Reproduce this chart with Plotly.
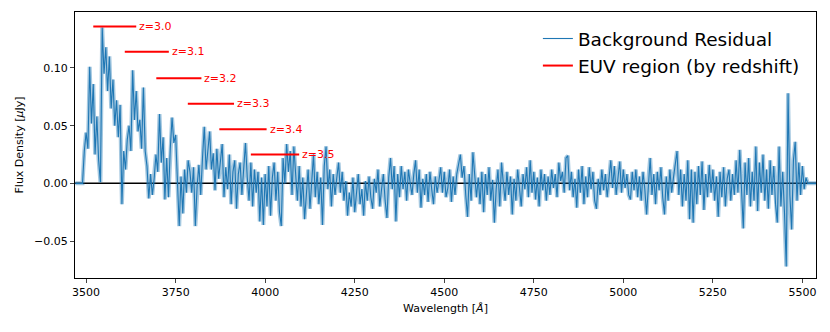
import numpy as np
import plotly.graph_objects as go

# wavelength grid of the residual spectrum [A], 5 A sampling
wave_start, wave_stop, wave_step = 3470, 5540, 5
wavelength = np.arange(wave_start, wave_stop + wave_step, wave_step)

pad_left = [0.0] * 5  # 3470 - 3490
flux = [
    0.028, 0.044, 0.030, 0.101, 0.052, 0.086, 0.025, 0.058, 0.020, 0.001,
    0.135, 0.095, 0.118, 0.080, 0.110, 0.065, 0.090, 0.050, 0.072, 0.040,
    0.068, -0.018, 0.028, 0.012, 0.038, 0.050, 0.028, 0.098, 0.055, 0.080,
    0.045, 0.055, 0.030, 0.083, 0.028, 0.015, -0.013, 0.008, -0.010, 0.004,
    0.025, 0.010, 0.060, 0.018, 0.040, -0.014, 0.022, -0.012, 0.030, 0.057,
    0.035, 0.042, 0.002, -0.037, 0.006, -0.026, 0.012, -0.008, 0.020, 0.010,
    -0.008, 0.014, -0.037, -0.002, 0.016, -0.010, 0.022, 0.049, 0.012, 0.032,
    0.045, 0.012, 0.026, -0.006, 0.030, 0.004, 0.018, 0.034, -0.012, 0.014,
    -0.005, 0.025, -0.018, 0.010, 0.020, -0.022, 0.008, 0.018, -0.010, 0.015,
    0.035, 0.005, -0.015, 0.018, -0.020, 0.012, -0.008, 0.010, -0.033, 0.005,
    -0.036, 0.008, -0.020, 0.015, -0.028, 0.005, 0.018, -0.015, 0.010, -0.025,
    -0.037, 0.022, 0.000, 0.034, 0.010, 0.028, -0.010, 0.032, 0.005, -0.015,
    0.015, -0.020, 0.005, -0.031, -0.010, 0.012, -0.022, 0.002, 0.025, -0.012,
    0.010, -0.018, 0.005, -0.036, 0.015, 0.032, -0.005, 0.012, -0.020, 0.008,
    -0.010, 0.005, 0.018, -0.008, 0.010, -0.015, 0.002, -0.028, -0.008, -0.020,
    0.005, -0.025, -0.010, 0.008, -0.018, -0.005, -0.028, 0.002, -0.015, 0.006,
    -0.012, -0.022, 0.004, -0.008, 0.012, -0.020, -0.005, 0.008, -0.015, -0.030,
    0.005, 0.022, -0.005, 0.015, -0.033, 0.008, -0.012, 0.015, -0.005, 0.010,
    -0.015, 0.012, 0.000, -0.010, 0.008, 0.020, -0.008, 0.012, -0.021, 0.004,
    -0.010, 0.008, -0.016, 0.010, -0.005, -0.018, 0.006, -0.008, 0.002, 0.014,
    -0.008, 0.010, -0.012, -0.004, 0.012, -0.016, 0.006, -0.010, 0.008, 0.018,
    0.025, 0.005, 0.015, -0.010, -0.029, 0.008, -0.015, 0.027, 0.010, -0.012,
    0.005, -0.018, 0.010, -0.025, 0.008, -0.010, 0.014, -0.015, 0.003, -0.034,
    -0.005, 0.012, -0.020, 0.018, 0.000, -0.015, 0.010, -0.010, 0.006, -0.027,
    0.004, -0.015, 0.012, -0.008, -0.020, 0.008, -0.005, 0.014, -0.012, 0.020,
    -0.008, 0.010, -0.014, 0.005, -0.020, 0.012, -0.006, 0.008, -0.015, 0.006,
    -0.010, 0.012, -0.004, 0.008, -0.012, 0.018, 0.002, 0.010, -0.008, 0.022,
    0.024, -0.006, 0.010, -0.012, 0.004, -0.021, 0.012, -0.008, 0.015, -0.018,
    0.006, -0.012, 0.014, -0.005, 0.010, -0.015, -0.022, 0.004, -0.010, 0.012,
    -0.006, 0.008, -0.012, 0.004, 0.020, -0.004, 0.015, -0.010, 0.006, 0.019,
    -0.008, 0.012, -0.004, 0.008, -0.010, -0.014, 0.010, -0.006, 0.012, -0.012,
    0.006, -0.015, 0.010, -0.005, -0.027, 0.004, 0.022, -0.010, 0.008, -0.018,
    0.010, -0.006, 0.014, -0.012, -0.027, 0.006, -0.015, 0.012, -0.008, 0.005,
    0.015, 0.028, -0.010, 0.012, -0.020, 0.008, -0.015, 0.020, -0.031, 0.012,
    -0.034, 0.010, -0.018, 0.015, -0.010, 0.019, -0.023, 0.008, -0.012, 0.016,
    -0.008, 0.012, -0.015, 0.006, -0.029, 0.010, -0.012, 0.014, -0.020, 0.004,
    0.012, -0.015, 0.008, -0.010, 0.020, -0.008, 0.029, -0.012, -0.039, 0.018,
    -0.010, 0.022, -0.020, 0.010, -0.015, 0.032, -0.024, 0.018, -0.008, 0.025,
    -0.015, 0.012, -0.022, 0.020, -0.010, 0.015, -0.018, -0.034, 0.032, -0.020,
    0.010, -0.025, -0.072, 0.078, -0.010, -0.040, 0.020, 0.036, -0.015, 0.018,
    -0.010, 0.015, -0.005, 0.005,
]
pad_right = [0.0] * 6  # 5515 - 5540
flux_all = pad_left + flux + pad_right

# EUV region segments per redshift
redshifts = ["3.0", "3.1", "3.2", "3.3", "3.4", "3.5"]
euv_start = [3520, 3608, 3696, 3784, 3872, 3960]
euv_end = [3640, 3731, 3822, 3913, 4004, 4095]
euv_level = [0.136, 0.114, 0.091, 0.069, 0.047, 0.025]

blue = "#1f77b4"
fig = go.Figure()

# light band under the main line
fig.add_trace(go.Scatter(x=wavelength, y=flux_all, mode="lines",
                         line=dict(color=blue, width=4), opacity=0.4,
                         showlegend=False, hoverinfo="skip"))
fig.add_trace(go.Scatter(x=wavelength, y=flux_all, mode="lines",
                         line=dict(color=blue, width=1.1),
                         name="Background Residual"))

seg_x, seg_y = [], []
for s, e, lv in zip(euv_start, euv_end, euv_level):
    seg_x += [s, e, None]
    seg_y += [lv, lv, None]
fig.add_trace(go.Scatter(x=seg_x, y=seg_y, mode="lines",
                         line=dict(color="red", width=2),
                         name="EUV region (by redshift)"))

for z, e, lv in zip(redshifts, euv_end, euv_level):
    fig.add_annotation(x=e, y=lv, text="z=" + z, showarrow=False,
                       xanchor="left", yanchor="middle", xshift=1,
                       font=dict(color="red", size=11))

fig.add_shape(type="line", xref="paper", x0=0, x1=1, yref="y", y0=0, y1=0,
              line=dict(color="black", width=1.5), layer="below")

# page body adds 8px, so the figure is a bit smaller than the window
fig.update_layout(
    width=822, height=324,
    margin=dict(l=67, r=14, t=4, b=54),
    plot_bgcolor="white", paper_bgcolor="white",
    font=dict(family="DejaVu Sans", size=11, color="black"),
    legend=dict(x=0.985, y=0.97, xanchor="right", yanchor="top",
                font=dict(size=18.5), bgcolor="rgba(0,0,0,0)",
                tracegroupgap=0),
)
fig.update_xaxes(range=[3469, 5538], tickvals=[3500, 3750, 4000, 4250, 4500, 4750, 5000, 5250, 5500],
                 showgrid=False, zeroline=False, showline=True, linecolor="black",
                 linewidth=1, mirror=True, ticks="outside", ticklen=4,
                 title=dict(text="Wavelength [<i>Å</i>]", font=dict(size=11), standoff=6))
fig.update_yaxes(range=[-0.082, 0.1485], tickvals=[-0.05, 0.0, 0.05, 0.10], tickformat=".2f",
                 showgrid=False, zeroline=False, showline=True, linecolor="black",
                 linewidth=1, mirror=True, ticks="outside", ticklen=4,
                 title=dict(text="Flux Density [<i>μ</i>Jy]", font=dict(size=11), standoff=8))

fig.write_html("out.html")
